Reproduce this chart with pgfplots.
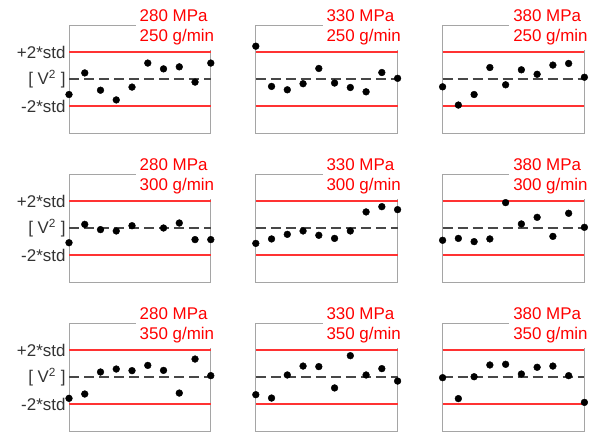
\documentclass[border=0pt]{standalone}
\usepackage{pgfplots}
\pgfplotsset{compat=1.18}
\usepackage{fontspec}
\setmainfont{Liberation Sans}
\definecolor{lblgray}{RGB}{51,51,51}
\definecolor{framegray}{RGB}{165,165,165}
\definecolor{redline}{RGB}{255,50,50}
\pgfplotsset{
  panel/.style={
    scale only axis, width=141.8bp, height=108bp, anchor=south west,
    xmin=1, xmax=10, ymin=-4, ymax=4, clip=false,
    xtick=\empty, ytick=\empty, major tick length=0pt,
    axis line style={framegray, line width=0.9bp},
    tick label style={font=\fontsize{17}{20}\selectfont, text=lblgray},
  },
  lab/.style={ytick={-2,0,2}, yticklabels={{-2*std},{[ V\textsuperscript{2} ]},{+2*std}}},
}
\newcommand{\panel}[4]{%
\begin{axis}[panel, at={(#1bp,#2bp)}, #3]
\addplot[draw=redline, color=redline, line width=1.4bp] coordinates {(1,2) (10,2)};
\addplot[draw=redline, color=redline, line width=1.4bp] coordinates {(1,-2) (10,-2)};
\addplot[draw=black!72, line width=1.2bp, dash pattern=on 10bp off 5bp] coordinates {(1,0) (10,0)};
\addplot[only marks, mark=*, mark size=3.4bp, draw=black, fill=black] coordinates {#4};
\end{axis}
}
\newcommand{\ptitle}[4]{%
\node[anchor=south west, fill=white, inner xsep=4bp, inner ysep=5bp, align=left, text=red,
  font=\fontsize{17}{20}\selectfont] at ([xshift=66.5bp,yshift=82.5bp]#1bp,#2bp) {#3 MPa\\#4 g/min};
}
\begin{document}
\begin{tikzpicture}
\path[use as bounding box] (0,0) rectangle (601bp,433bp);
% row 1 (250 g/min)
\panel{69}{300}{lab}{(1,-1.15)(2,0.45)(3,-0.83)(4,-1.55)(5,-0.6)(6,1.18)(7,0.75)(8,0.9)(9,-0.23)(10,1.18)}
\panel{255.8}{300}{}{(1,2.43)(2,-0.55)(3,-0.8)(4,-0.35)(5,0.78)(6,-0.3)(7,-0.63)(8,-0.95)(9,0.48)(10,0.05)}
\panel{442.6}{300}{}{(1,-0.58)(2,-1.93)(3,-1.15)(4,0.85)(5,-0.43)(6,0.68)(7,0.35)(8,1.03)(9,1.15)(10,0.13)}
% row 2 (300 g/min)
\panel{69}{151}{lab}{(1,-1.09)(2,0.27)(3,-0.12)(4,-0.22)(5,0.17)(7,0.0)(8,0.37)(9,-0.86)(10,-0.86)}
\panel{255.8}{151}{}{(1,-1.14)(2,-0.81)(3,-0.47)(4,-0.22)(5,-0.54)(6,-0.77)(7,-0.22)(8,1.19)(9,1.58)(10,1.36)}
\panel{442.6}{151}{}{(1,-0.91)(2,-0.77)(3,-1.01)(4,-0.81)(5,1.88)(6,0.3)(7,0.79)(8,-0.62)(9,1.09)(10,0.05)}
% row 3 (350 g/min)
\panel{69}{2}{lab}{(1,-1.58)(2,-1.26)(3,0.37)(4,0.59)(5,0.47)(6,0.86)(7,0.49)(8,-1.19)(9,1.33)(10,0.1)}
\panel{255.8}{2}{}{(1,-1.31)(2,-1.56)(3,0.15)(4,0.81)(5,0.77)(6,-0.81)(7,1.58)(8,0.15)(9,0.62)(10,-0.3)}
\panel{442.6}{2}{}{(1,-0.05)(2,-1.6)(3,0.02)(4,0.89)(5,0.94)(6,0.22)(7,0.72)(8,0.81)(9,0.1)(10,-1.88)}
% titles
\ptitle{69}{300}{280}{250}
\ptitle{255.8}{300}{330}{250}
\ptitle{442.6}{300}{380}{250}
\ptitle{69}{151}{280}{300}
\ptitle{255.8}{151}{330}{300}
\ptitle{442.6}{151}{380}{300}
\ptitle{69}{2}{280}{350}
\ptitle{255.8}{2}{330}{350}
\ptitle{442.6}{2}{380}{350}
\end{tikzpicture}
\end{document}
